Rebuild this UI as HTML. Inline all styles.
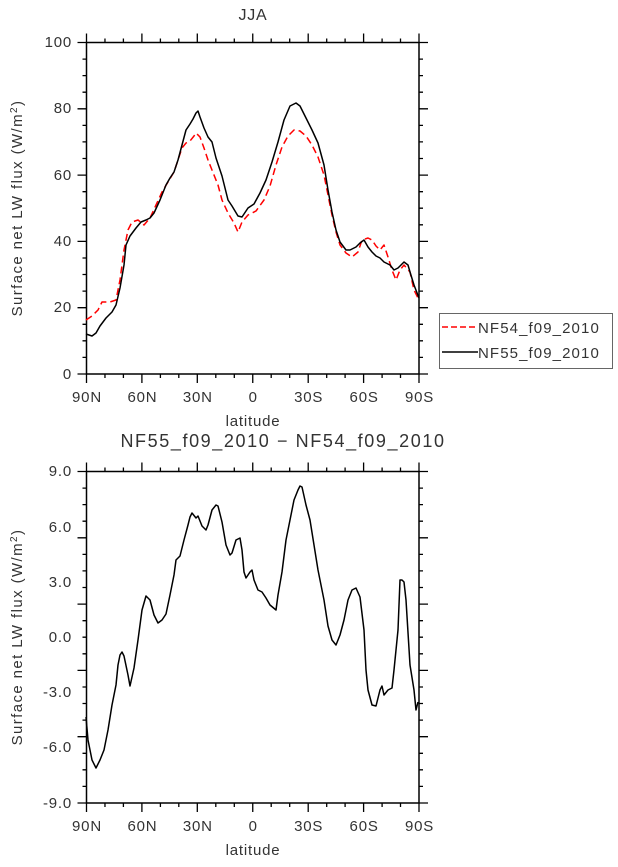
<!DOCTYPE html>
<html><head><style>body{margin:0;background:#fff}svg text{font-family:"Liberation Sans",sans-serif;fill:#333}</style></head><body>
<svg width="618" height="862" viewBox="0 0 618 862" xmlns="http://www.w3.org/2000/svg">
<g stroke="#000" stroke-width="1.5" fill="none">
<rect x="86.5" y="42.5" width="332.5" height="331.5"/>
<rect x="86.5" y="471.5" width="332.5" height="331.5"/>
</g>
<g id="ticks" stroke="#000" stroke-width="1.3">
<path d="M86.5 374v9M141.9 374v9M197.3 374v9M252.75 374v9M308.2 374v9M363.6 374v9M419 374v9M86.5 42.5v-9M141.9 42.5v-9M197.3 42.5v-9M252.75 42.5v-9M308.2 42.5v-9M363.6 42.5v-9M419 42.5v-9"/>
<path d="M104.97 374v4M123.4 374v4M160.4 374v4M178.8 374v4M215.8 374v4M234.3 374v4M271.2 374v4M289.7 374v4M326.7 374v4M345.1 374v4M382.1 374v4M400.5 374v4M104.97 42.5v-4M123.4 42.5v-4M160.4 42.5v-4M178.8 42.5v-4M215.8 42.5v-4M234.3 42.5v-4M271.2 42.5v-4M289.7 42.5v-4M326.7 42.5v-4M345.1 42.5v-4M382.1 42.5v-4M400.5 42.5v-4"/>
<path d="M86.5 42.5h-9M86.5 108.8h-9M86.5 175.1h-9M86.5 241.4h-9M86.5 307.7h-9M86.5 374h-9M419 42.5h9M419 108.8h9M419 175.1h9M419 241.4h9M419 307.7h9M419 374h9"/>
<path d="M86.5 59.1h-4M86.5 75.6h-4M86.5 92.2h-4M86.5 125.4h-4M86.5 141.9h-4M86.5 158.5h-4M86.5 191.7h-4M86.5 208.2h-4M86.5 224.8h-4M86.5 258h-4M86.5 274.5h-4M86.5 291.1h-4M86.5 324.3h-4M86.5 340.8h-4M86.5 357.4h-4M419 59.1h4M419 75.6h4M419 92.2h4M419 125.4h4M419 141.9h4M419 158.5h4M419 191.7h4M419 208.2h4M419 224.8h4M419 258h4M419 274.5h4M419 291.1h4M419 324.3h4M419 340.8h4M419 357.4h4"/>
</g>
<use href="#ticks" transform="translate(0,429)"/>
<g font-size="15" text-anchor="end" letter-spacing="0.8">
<text x="72" y="47">100</text><text x="72" y="113">80</text><text x="72" y="180">60</text><text x="72" y="246">40</text><text x="72" y="312">20</text><text x="72" y="379">0</text>
<text x="72" y="476">9.0</text><text x="72" y="532">6.0</text><text x="72" y="587">3.0</text><text x="72" y="642">0.0</text><text x="72" y="697">-3.0</text><text x="72" y="752">-6.0</text><text x="72" y="808">-9.0</text>
</g>
<g font-size="15" text-anchor="middle" letter-spacing="0.8">
<text x="87" y="402">90N</text><text x="142.4" y="402">60N</text><text x="197.8" y="402">30N</text><text x="253.25" y="402">0</text><text x="308.7" y="402">30S</text><text x="364.1" y="402">60S</text><text x="419.5" y="402">90S</text>
<text x="87" y="831">90N</text><text x="142.4" y="831">60N</text><text x="197.8" y="831">30N</text><text x="253.25" y="831">0</text><text x="308.7" y="831">30S</text><text x="364.1" y="831">60S</text><text x="419.5" y="831">90S</text>
<text x="253" y="426">latitude</text><text x="253" y="855">latitude</text>
<text x="253" y="20" font-size="16">JJA</text>
<text x="283" y="447" font-size="18" letter-spacing="1.6">NF55_f09_2010 − NF54_f09_2010</text>
<text transform="translate(22,208) rotate(-90)" letter-spacing="1.4">Surface net LW flux (W/m<tspan font-size="10" dy="-5">2</tspan><tspan dy="5">)</tspan></text>
<text transform="translate(22,637) rotate(-90)" letter-spacing="1.4">Surface net LW flux (W/m<tspan font-size="10" dy="-5">2</tspan><tspan dy="5">)</tspan></text>
</g>
<g fill="none" stroke-width="1.5" stroke-linejoin="round">
<polyline stroke="#f00" stroke-dasharray="7,4" points="86,320 92,316 98,310 102,302 110,302 116,300 120,280 124,250 128,230 132,222 138,220 144,225 150,218 156,205 162,192 168,182 174,172 178,160 182,148 186,143 190,141 194,136 196,133 200,137 204,148 208,160 212,170 218,185 222,200 228,213 234,223 238,232 242,222 248,215 256,211 264,200 270,186 276,165 282,147 288,136 294,130 300,131 306,136 312,145 318,157 324,175 328,195 332,215 336,232 340,245 346,253 352,257 358,252 362,240 368,238 372,240 376,246 380,250 384,245 388,257 392,270 396,280 400,270 404,265 410,272 414,290 419,300"/>
<polyline stroke="#000" points="86,334 92,336 96,333 100,326 106,318 112,312 116,305 120,288 124,265 126,245 130,236 136,228 141,222 146,220 150,218 154,213 160,200 166,185 170,178 174,172 178,160 182,145 186,130 190,124 193,119 196,113 198,111 200,117 204,128 208,137 212,142 216,158 222,176 228,200 232,206 238,216 242,217 248,208 254,204 260,193 266,180 272,162 278,142 284,120 290,106 296,103 300,106 306,118 312,130 318,143 324,165 328,190 332,212 336,230 340,242 346,250 350,250 356,247 360,243 364,240 368,247 372,252 376,256 380,258 384,262 390,265 394,270 398,268 404,262 408,265 410,272 414,285 419,298"/>
<polyline stroke="#000" points="86,717 88,740 92,760 96,768 100,760 104,750 108,730 112,705 116,685 118,665 120,655 122,652 124,656 128,675 130,686 134,668 138,640 142,610 146,596 150,600 154,615 158,623 162,620 166,614 170,595 174,575 176,560 180,556 184,540 188,525 190,517 192,513 196,518 198,516 202,526 206,530 208,525 212,510 216,505 218,506 222,522 226,545 230,555 232,553 236,540 240,538 242,550 244,572 246,578 250,572 252,570 254,580 258,590 262,592 266,598 270,605 276,610 278,595 282,572 286,540 290,520 294,500 298,490 300,486 302,487 306,505 310,520 314,545 318,570 324,600 328,626 332,640 336,645 340,635 344,620 348,600 352,590 356,588 360,597 364,630 366,670 368,690 372,705 376,706 380,690 382,686 384,695 388,690 392,688 394,670 398,630 400,580 402,580 404,582 406,600 410,665 414,690 416,710 418,702"/>
</g>
<rect x="439.5" y="313.5" width="173" height="55" fill="none" stroke="#666" stroke-width="1"/>
<line x1="442" y1="327" x2="478" y2="327" stroke="#f00" stroke-width="1.5" stroke-dasharray="6,3"/>
<line x1="442" y1="352" x2="478" y2="352" stroke="#000" stroke-width="1.5"/>
<g font-size="15" letter-spacing="1.1"><text x="478" y="333">NF54_f09_2010</text><text x="478" y="358">NF55_f09_2010</text></g>
</svg>
</body></html>
